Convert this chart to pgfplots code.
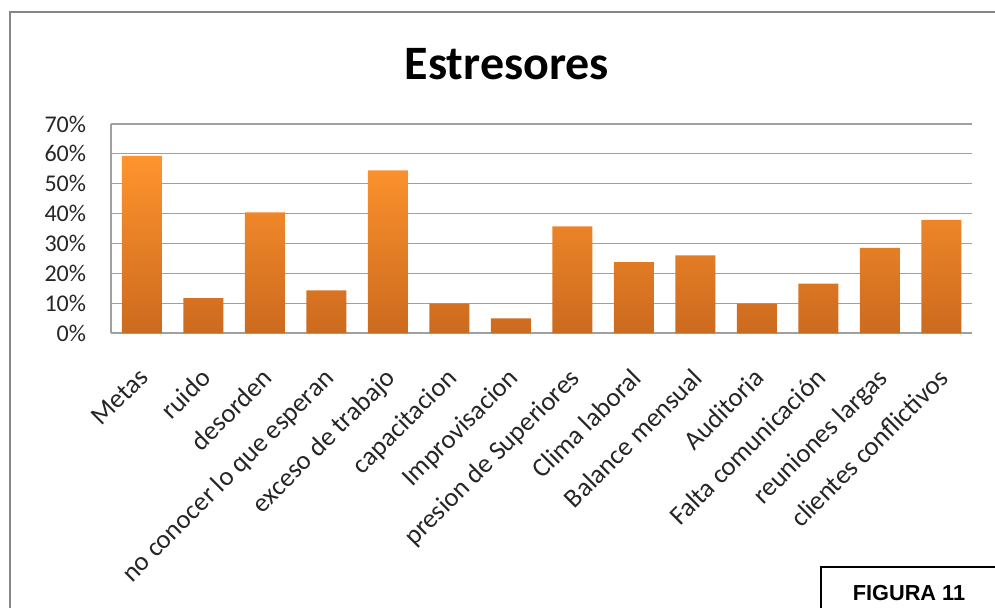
\documentclass[border=0pt]{standalone}
\usepackage{pgfplots}
\pgfplotsset{compat=1.18}
\usepackage{fontspec}
\setmainfont{Carlito}
\newfontfamily\arialfont{Liberation Sans}
\definecolor{bartop}{RGB}{255,148,46}
\definecolor{barbot}{RGB}{204,106,30}
\definecolor{gridgray}{RGB}{160,160,160}
\definecolor{framegray}{RGB}{134,134,134}
\begin{document}
\begin{tikzpicture}[x=0.75pt,y=0.75pt]
\clip (0,0) rectangle (995,607);
% outer frame
\draw[framegray, line width=1.5pt] (10,-20) rectangle (1020,595);
% title
\node[font=\bfseries\fontsize{36}{42}\selectfont] at (507,543) {Estresores};
\begin{axis}[
  at={(83.25pt,205.5pt)}, anchor=south west,
  scale only axis, width=645.75pt, height=156.75pt,
  xmin=-0.5, xmax=13.5, ymin=0, ymax=70,
  ytick={0,10,...,70},
  yticklabel={\pgfmathprintnumber{\tick}\%},
  /pgf/number format/assume math mode=true,
  ymajorgrids, grid style={gridgray, line width=0.9pt},
  axis x line*=bottom, axis y line*=left,
  axis line style={gridgray, line width=0.9pt},
  major tick length=0pt,
  tick style={draw=none},
  xtick=data,
  xticklabels={Metas, ruido, desorden, no conocer lo que esperan, exceso de trabajo, capacitacion, Improvisacion, presion de Superiores, Clima laboral, Balance mensual, Auditoria, Falta comunicación, reuniones largas, clientes conflictivos},
  xticklabel style={rotate=45, anchor=north east, inner sep=0pt, xshift=-20pt, yshift=-15.5pt, font=\fontsize{20}{23}\selectfont, text=black!85},
  yticklabel style={font=\fontsize{18}{21}\selectfont, inner sep=0pt, anchor=east, xshift=-18.5pt, text=black!85},
  ybar, bar width=30pt,
]
\addplot[draw=none, top color=bartop, bottom color=barbot] coordinates {
(0,59.3) (1,11.7) (2,40.4) (3,14.3) (4,54.5) (5,9.8) (6,4.9) (7,35.7) (8,23.7) (9,26.0) (10,9.8) (11,16.5) (12,28.5) (13,37.9)
};
\end{axis}
% FIGURA box
\draw[black, line width=1.2pt] (821,-20) rectangle (1020,40);
\node[font=\arialfont\bfseries\fontsize{16.3}{19}\selectfont] at (909,14) {FIGURA 11};
\end{tikzpicture}
\end{document}
